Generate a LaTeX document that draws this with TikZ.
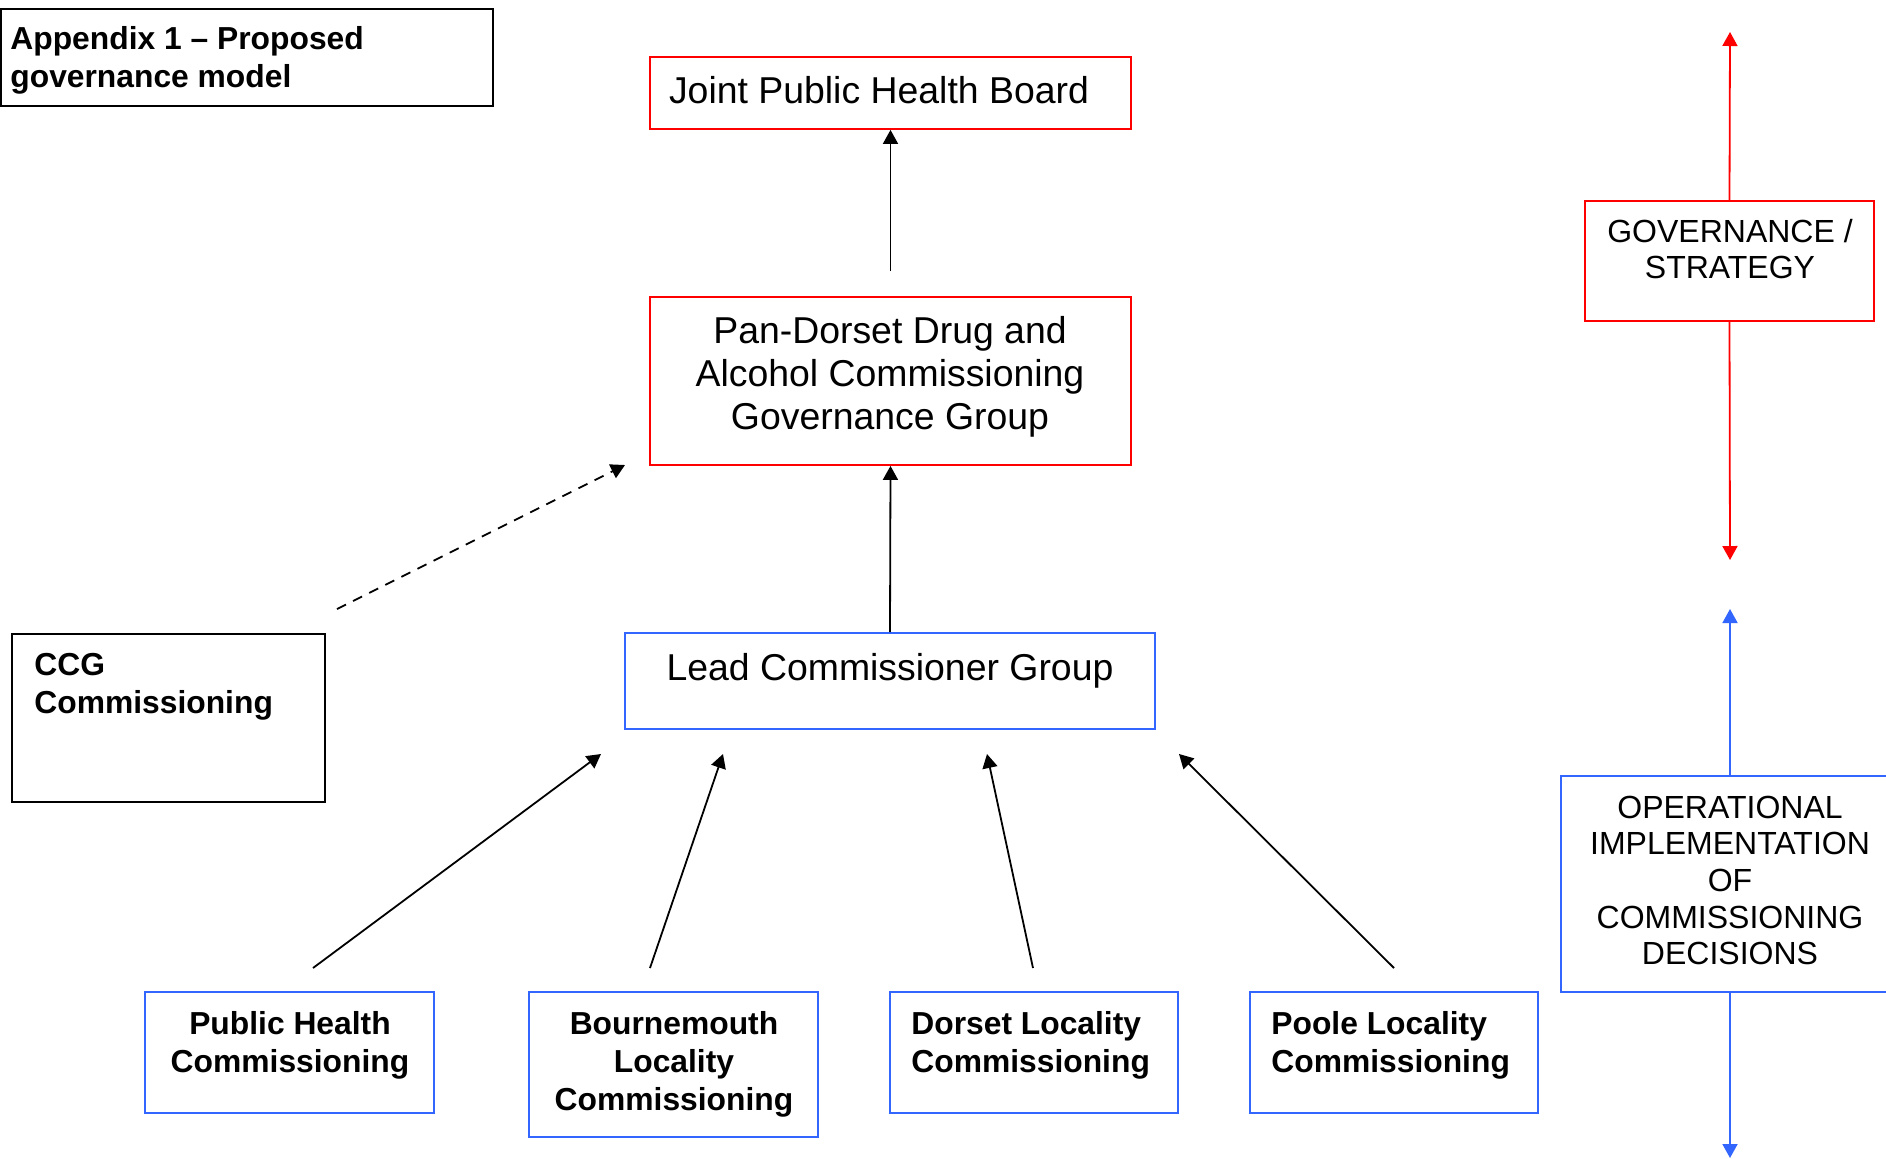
\documentclass[tikz,border=0pt]{standalone}
\usepackage{fontspec}
\setmainfont{Liberation Sans}
\usetikzlibrary{arrows.meta}
\definecolor{myred}{RGB}{255,0,0}
\definecolor{myblue}{RGB}{51,102,255}
\begin{document}
\begin{tikzpicture}[x=0.5pt,y=-0.5pt,
  box/.style={draw, line width=0.9pt, inner sep=0pt},
  redbox/.style={box, draw=myred},
  bluebox/.style={box, draw=myblue},
  blackbox/.style={box, draw=black, line width=1pt},
  bigtxt/.style={font=\fontsize{18.7pt}{21.65pt}\selectfont, inner sep=0pt, anchor=north, align=center},
  boldtxt/.style={font=\fontsize{15.9pt}{19pt}\selectfont\bfseries, inner sep=0pt, anchor=north},
  captxt/.style={font=\fontsize{16pt}{18.3pt}\selectfont, inner sep=0pt, anchor=north, align=center},
  tip/.style={-{Triangle[length=7pt,width=7.5pt]}},
  arr/.style={tip, line width=0.9pt, draw=black},
  dasharr/.style={arr, dash pattern=on 5pt off 4pt},
  redarr/.style={tip, line width=0.9pt, draw=myred, fill=myred},
  bluearr/.style={tip, line width=0.9pt, draw=myblue, fill=myblue}
]
\useasboundingbox (0,0) rectangle (1886,1158);
\clip (0,0) rectangle (1886,1158);

% boxes
\node[blackbox, minimum width=246pt, minimum height=48.5pt] (app) at (247,57.5) {};
\node[redbox, minimum width=240.5pt, minimum height=36pt] (jphb) at (890.5,93) {};
\node[redbox, minimum width=240.5pt, minimum height=84pt] (pdg) at (890.5,381) {};
\node[bluebox, minimum width=265pt, minimum height=48pt] (lcg) at (890,681) {};
\node[blackbox, minimum width=156.5pt, minimum height=84pt] (ccg) at (168.5,718) {};
\node[bluebox, minimum width=144.5pt, minimum height=60.5pt] (phc) at (289.5,1052.5) {};
\node[bluebox, minimum width=144.5pt, minimum height=72.5pt] (bmc) at (673.5,1064.5) {};
\node[bluebox, minimum width=144pt, minimum height=60.5pt] (dlc) at (1034,1052.5) {};
\node[bluebox, minimum width=144pt, minimum height=60.5pt] (plc) at (1394,1052.5) {};
\node[redbox, minimum width=144.5pt, minimum height=60pt] (gov) at (1729.5,261) {};
\node[bluebox, minimum width=169pt, minimum height=108pt] (ops) at (1730,884) {};

% texts
\node[boldtxt, anchor=north west, align=left] (app-t) at (10,26.5) {Appendix 1 -- Proposed\\governance model};
\node[bigtxt] (jphb-t) at (879,75.5) {Joint Public Health Board};
\node[bigtxt] (pdg-t) at (890,315.5) {Pan-Dorset Drug and\\Alcohol Commissioning\\Governance Group};
\node[bigtxt] (lcg-t) at (890,652.5) {Lead Commissioner Group};
\node[boldtxt, anchor=north west, align=left] (ccg-t) at (34,652.5) {CCG\\Commissioning};
\node[boldtxt, align=center] (phc-t) at (290,1011.5) {Public Health\\Commissioning};
\node[boldtxt, align=center] (bmc-t) at (674,1011.5) {Bournemouth\\Locality\\Commissioning};
\node[boldtxt, anchor=north west, align=left] (dlc-t) at (911,1011.5) {Dorset Locality\\Commissioning};
\node[boldtxt, anchor=north west, align=left] (plc-t) at (1271,1011.5) {Poole Locality\\Commissioning};
\node[captxt] (gov-t) at (1730,218.5) {GOVERNANCE /\\STRATEGY};
\node[captxt] (ops-t) at (1730,795.5) {OPERATIONAL\\IMPLEMENTATION\\OF\\COMMISSIONING\\DECISIONS};

% free ends
\coordinate (dashA) at (337,609);
\coordinate (dashB) at (625,465);
\coordinate (phA) at (313,968);
\coordinate (phB) at (601,754);
\coordinate (bmA) at (650,968);
\coordinate (bmB) at (723,754);
\coordinate (dlA) at (1033,968);
\coordinate (dlB) at (987,754);
\coordinate (plA) at (1394,968);
\coordinate (plB) at (1179,754);
\coordinate (redtop) at (1730,32);
\coordinate (redbot) at (1730,560);
\coordinate (bluetop) at (1730,609);
\coordinate (bluebot) at (1730,1158);

% connectors
\draw[arr] ([yshift=12.5pt]pdg.north) -- (jphb.south);
\draw[arr] (lcg.north) -- (pdg.south);
\draw[dasharr] (dashA) -- (dashB);
\draw[arr] (phA) -- (phB);
\draw[arr] (bmA) -- (bmB);
\draw[arr] (dlA) -- (dlB);
\draw[arr] (plA) -- (plB);
\draw[redarr] (gov.north) -- (redtop);
\draw[redarr] (gov.south) -- (redbot);
\draw[bluearr] (ops.north) -- (bluetop);
\draw[bluearr] (ops.south) -- (bluebot);
\end{tikzpicture}
\end{document}
